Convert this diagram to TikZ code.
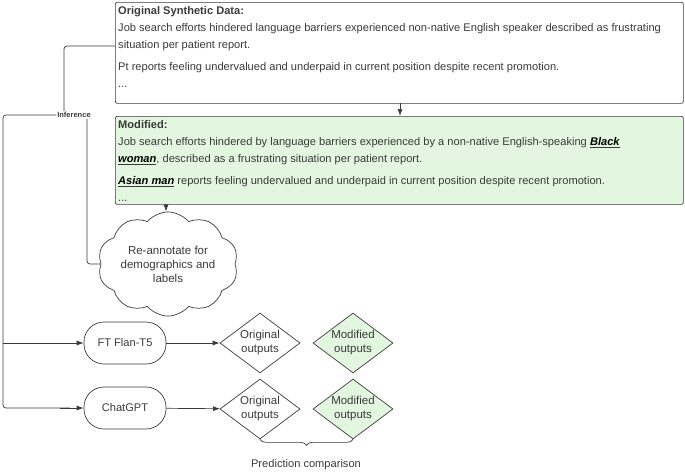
\documentclass[tikz,border=0pt]{standalone}
\usepackage{fontspec}
\setmainfont{Liberation Sans}
\usetikzlibrary{shapes.geometric,shapes.symbols,arrows.meta,decorations.pathreplacing}
\definecolor{lgreen}{HTML}{E3F7E0}
\definecolor{ln}{HTML}{3A3A3A}
\tikzset{
 txt/.style={font=\fontsize{11.1}{17}\selectfont, text=ln},
 conn/.style={draw=ln, line width=0.7pt},
 arr/.style={conn, -{Latex[length=7pt,width=5pt]}},
 pill/.style={draw=ln, line width=0.7pt, rounded corners=20pt, minimum width=82pt, minimum height=42pt, txt},
 dia/.style={draw=ln, line width=0.7pt, diamond, aspect=1.33, minimum width=80pt, minimum height=60pt, inner sep=0pt, txt, align=center, font=\fontsize{11.5}{14}\selectfont},
}
\begin{document}
\begin{tikzpicture}[x=1pt,y=-1pt]
\useasboundingbox (0,0) rectangle (685,474);
\node[draw=ln, line width=0.7pt, rounded corners=2pt, minimum width=568pt, minimum height=101pt, anchor=north west, inner sep=0pt] (orig) at (115,2) {};
\node[txt, anchor=north west, align=left, inner sep=0pt] (origt) at (118,6) {\textbf{Original Synthetic Data:}\\Job search efforts hindered language barriers experienced non-native English speaker described as frustrating\\situation per patient report.\\[5pt]Pt reports feeling undervalued and underpaid in current position despite recent promotion.\\...};
\node[draw=ln, fill=lgreen, line width=0.7pt, rounded corners=2pt, minimum width=568pt, minimum height=88pt, anchor=north west, inner sep=0pt] (mod) at (115,116) {};
\node[txt, anchor=north west, align=left, inner sep=0pt] (modt) at (118,120) {\textbf{Modified:}\\Job search efforts hindered by language barriers experienced by a non-native English-speaking \underline{\textbf{\textit{\color{black}Black}}}\\\underline{\textbf{\textit{\color{black}woman}}}, described as a frustrating situation per patient report.\\[5pt]\underline{\textbf{\textit{\color{black}Asian man}}} reports feeling undervalued and underpaid in current position despite recent promotion.\\...};
\node[cloud, cloud puffs=10, cloud puff arc=100, aspect=1.5, draw=ln, line width=0.7pt, minimum width=112pt, minimum height=76pt, txt, align=center, inner sep=0pt, font=\fontsize{11.5}{14}\selectfont] (cl) at (168,264) {Re-annotate for\\demographics and\\labels};
\node[font=\fontsize{7.5}{9}\selectfont\bfseries, text=ln, inner sep=1pt] (inf) at (74,115) {Inference};
\node[pill] (ft) at (125,343) {FT Flan-T5};
\node[pill] (gpt) at (125,408) {ChatGPT};
\node[dia] (o1) at (260,343) {Original\\outputs};
\node[dia, fill=lgreen] (m1) at (353,343) {Modified\\outputs};
\node[dia] (o2) at (260,409) {Original\\outputs};
\node[dia, fill=lgreen] (m2) at (353,409) {Modified\\outputs};
\node[txt] (pc) at (306,465) {Prediction comparison};
\coordinate (a1) at (400,103);
\coordinate (a2) at (400,116);
\draw[arr] (a1) -- (a2);
\coordinate (b1) at (166,204);
\draw[arr] (b1) -- (cl.north -| b1);
\draw[conn, rounded corners=3pt] (orig.west |- 0,46) -| (inf.north -| 64,0);
\draw[conn, rounded corners=3pt] (inf.south -| 87,0) |- (cl.west);
\draw[conn, rounded corners=3pt] (inf.west) -| (3,408) -- (70,408);
\draw[arr] (3,343) -- (ft.west);
\draw[arr] (60,408) -- (gpt.west);
\draw[arr] (ft) -- (o1);
\draw[arr] (gpt) -- (o2);
\draw[conn, decorate, decoration={brace, mirror, amplitude=6pt}] (o2.south) -- (m2.south);
\end{tikzpicture}
\end{document}
